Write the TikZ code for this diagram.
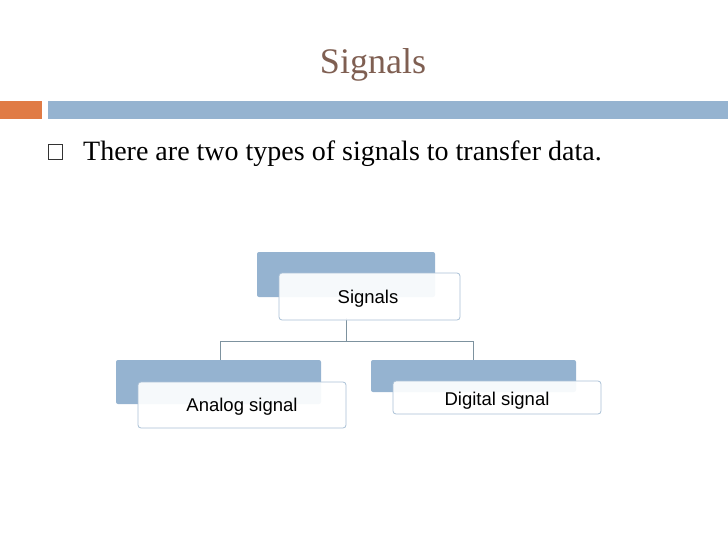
\documentclass[tikz,border=0pt]{standalone}
\usepackage{fontspec}
\setmainfont{Liberation Serif}
\newfontfamily\sansf{Liberation Sans}
\definecolor{barblue}{HTML}{95B3D0}
\definecolor{barorange}{HTML}{E07B45}
\definecolor{titlec}{HTML}{7F5F52}
\definecolor{edgec}{HTML}{A9C0D6}
\definecolor{linec}{HTML}{7D929F}
\tikzset{back/.style={fill=barblue,rounded corners=2pt},
 front/.style={draw=edgec,fill=white,fill opacity=0.92,text opacity=1,rounded corners=3pt,line width=0.8pt},
 lab/.style={font=\sansf\fontsize{18.5}{22}\selectfont,anchor=base}}
\begin{document}
\begin{tikzpicture}[x=1pt,y=-1pt]
\useasboundingbox (0,0) rectangle (728,546);
\node[text=titlec,font=\fontsize{36}{40}\selectfont,anchor=base] (title) at (373,73) {Signals};
\fill[barorange] (0,101) rectangle (42,119);
\fill[barblue] (48,101) rectangle (728,119);
\draw[black!80,line width=0.8pt] (48,144) rectangle (62,159);
\node[font=\fontsize{28}{32}\selectfont,anchor=base west,inner sep=0] (t) at (83,160) {There are two types of signals to transfer data.};
% connectors
\coordinate (j) at (346,341);
\coordinate (jl) at (220,341);
\coordinate (jr) at (473,341);
\draw[linec,line width=0.8pt] (346,318) -- (j) (jl) -- (jr) (jl) -- (220,361) (jr) -- (473,361);
% top
\fill[back] (257,252) rectangle (435,297);
\draw[front] (279,273) rectangle (460,320);
\node[lab] (s) at (368,303) {Signals};
% left
\fill[back] (116,360) rectangle (321,404);
\draw[front] (138,382) rectangle (346,428);
\node[lab] (a) at (242,411) {Analog signal};
% right
\fill[back] (371,360) rectangle (576,392);
\draw[front] (393,381) rectangle (601,414);
\node[lab] (d) at (497,405) {Digital signal};
\end{tikzpicture}
\end{document}
